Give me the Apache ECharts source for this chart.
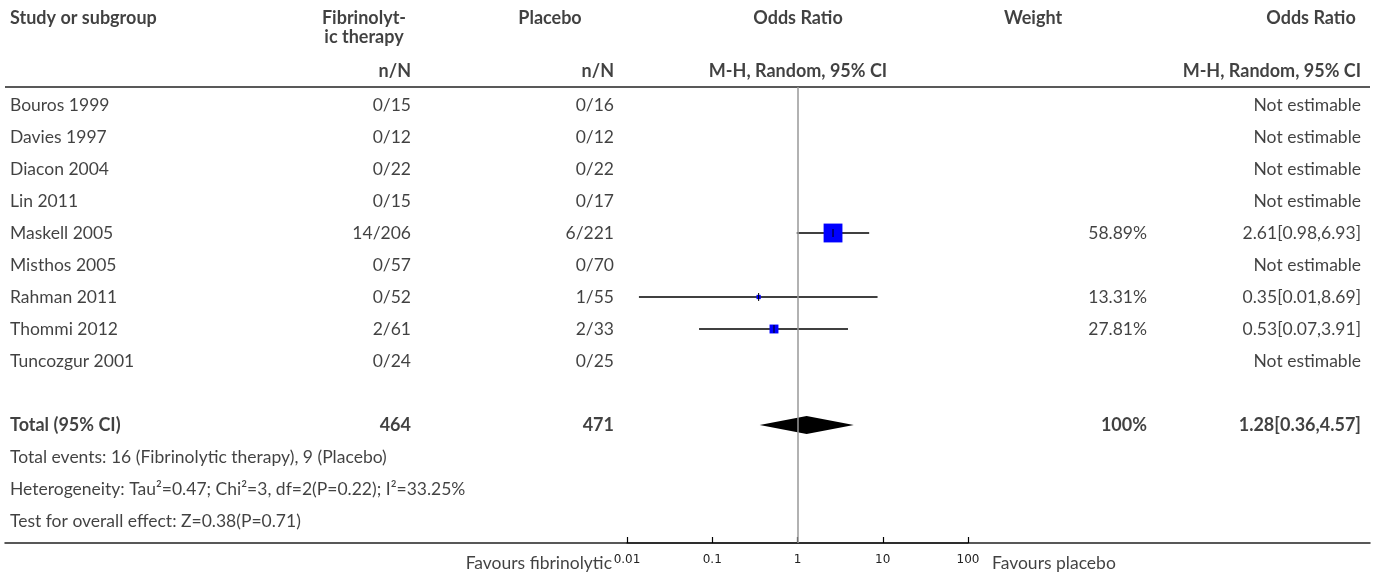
<!DOCTYPE html>
<html>
<head>
<meta charset="utf-8">
<script src="https://cdn.jsdelivr.net/npm/echarts@6/dist/echarts.min.js"></script>
<style>
  html, body { margin: 0; padding: 0; background: #fff; }
  #chart { width: 1375px; height: 573px; }
</style>
</head>
<body>
<div id="chart"></div>
<script>
// study rows
const studies = ['Bouros 1999', 'Davies 1997', 'Diacon 2004', 'Lin 2011', 'Maskell 2005',
  'Misthos 2005', 'Rahman 2011', 'Thommi 2012', 'Tuncozgur 2001'];
const fibEvents = [0, 0, 0, 0, 14, 0, 0, 2, 0];
const fibTotal = [15, 12, 22, 15, 206, 57, 52, 61, 24];
const plaEvents = [0, 0, 0, 0, 6, 0, 1, 2, 0];
const plaTotal = [16, 12, 22, 17, 221, 70, 55, 33, 25];
const weights = [null, null, null, null, 58.89, null, 13.31, 27.81, null];
const orPoint = [null, null, null, null, 2.61, null, 0.35, 0.53, null];
const orLow = [null, null, null, null, 0.98, null, 0.0138, 0.07, null];
const orHigh = [null, null, null, null, 6.93, null, 8.69, 3.91, null];

// pooled result
const totalFib = 464;
const totalPla = 471;
const totalWeight = 100;
const totalOR = [1.28, 0.36, 4.57];

const footLines = [
  'Total events: 16 (Fibrinolytic therapy), 9 (Placebo)',
  'Heterogeneity: Tau\u00b2=0.47; Chi\u00b2=3, df=2(P=0.22); I\u00b2=33.25%',
  'Test for overall effect: Z=0.38(P=0.71)'
];
const tickLabels = ['0.01', '0.1', '1', '10', '100'];

const FONT = 'Lato, "Noto Sans", sans-serif';
const TXT = '#111';

// column x positions (pixels along the full-width table axis)
const colStudy = 10, colFib = 411, colPla = 614, colWeight = 1147, colOR = 1361;

const fmtOR = (p, l, h) => `${p.toFixed(2)}[${l.toFixed(2)},${h.toFixed(2)}]`;

// table text, one scatter series per alignment
const leftText = [], rightText = [], centerText = [];
function put(arr, x, row, text, bold, extra) {
  arr.push({ value: [x, row], label: Object.assign({
    formatter: text, fontWeight: bold ? 'bold' : 'normal', fontSize: bold ? 18 : 17.5 }, extra || {}) });
}

// header rows
put(leftText, colStudy, -2.72, 'Study or subgroup', true);
put(centerText, 364, -2.43, 'Fibrinolyt-\nic therapy', true, { lineHeight: 19 });
put(centerText, 550, -2.72, 'Placebo', true);
put(centerText, 798, -2.72, 'Odds Ratio', true);
put(centerText, 1033, -2.72, 'Weight', true);
put(centerText, 1311, -2.72, 'Odds Ratio', true);
put(rightText, colFib, -1.06, 'n/N', true);
put(rightText, colPla, -1.06, 'n/N', true);
put(centerText, 798, -1.06, 'M-H, Random, 95% CI', true);
put(rightText, colOR, -1.06, 'M-H, Random, 95% CI', true);

studies.forEach((s, i) => {
  put(leftText, colStudy, i, s, false);
  put(rightText, colFib, i, `${fibEvents[i]}/${fibTotal[i]}`, false);
  put(rightText, colPla, i, `${plaEvents[i]}/${plaTotal[i]}`, false);
  if (weights[i] != null) {
    put(rightText, colWeight, i, weights[i].toFixed(2) + '%', false);
    put(rightText, colOR, i, fmtOR(orPoint[i], orLow[i], orHigh[i]), false);
  } else {
    put(rightText, colOR, i, 'Not estimable', false);
  }
});

const totalRow = studies.length + 1;
put(leftText, colStudy, totalRow, 'Total (95% CI)', true);
put(rightText, colFib, totalRow, String(totalFib), true);
put(rightText, colPla, totalRow, String(totalPla), true);
put(rightText, colWeight, totalRow, totalWeight + '%', true);
put(rightText, colOR, totalRow, fmtOR(totalOR[0], totalOR[1], totalOR[2]), true);
footLines.forEach((t, k) => put(leftText, colStudy, totalRow + 1 + k, t, false));

put(rightText, 612, 14.31, 'Favours fibrinolytic', false);
put(leftText, 992, 14.31, 'Favours placebo', false);

function textSeries(data, position) {
  return {
    type: 'scatter', xAxisIndex: 0, yAxisIndex: 0, symbolSize: 0, clip: false, silent: true,
    data: data,
    label: { show: true, position: position, distance: 0, color: TXT, fontFamily: FONT },
    emphasis: { disabled: true }
  };
}

const studyMarks = [];
studies.forEach((s, i) => {
  if (orPoint[i] != null) studyMarks.push([orPoint[i], i, orLow[i], orHigh[i], weights[i]]);
});

const chart = echarts.init(document.getElementById('chart'));
chart.setOption({
  animation: false,
  grid: [
    { left: 5, right: 5, top: 0, bottom: 30 },
    { left: 627, width: 341, top: 87, bottom: 30 }
  ],
  xAxis: [
    { type: 'value', gridIndex: 0, min: 5, max: 1370,
      axisLine: { onZero: false, lineStyle: { color: '#222', width: 1.5 } },
      axisTick: { show: false }, axisLabel: { show: false }, splitLine: { show: false } },
    { type: 'log', gridIndex: 1, logBase: 10, min: 0.01, max: 100,
      axisLine: { onZero: false, lineStyle: { color: '#222', width: 1.5 } },
      axisTick: { show: true, inside: true, length: 6, lineStyle: { color: '#000', width: 1.2 } },
      axisLabel: { color: '#222', fontSize: 12, fontFamily: 'DejaVu Sans', margin: 11,
        formatter: (v, idx) => tickLabels[idx] },
      splitLine: { show: false } }
  ],
  yAxis: [
    { type: 'value', gridIndex: 0, min: -3.28125, max: 13.6875, inverse: true, show: false },
    { type: 'value', gridIndex: 1, min: -0.5625, max: 13.6875, inverse: true, show: false }
  ],
  series: [
    textSeries(leftText, 'right'),
    textSeries(rightText, 'left'),
    textSeries(centerText, 'inside'),
    {
      type: 'line', xAxisIndex: 0, yAxisIndex: 0, data: [], silent: true,
      markLine: { silent: true, symbol: 'none', label: { show: false },
        lineStyle: { color: '#222', width: 1.5, type: 'solid' },
        data: [{ yAxis: -0.5625 }] }
    },
    {
      type: 'custom', xAxisIndex: 1, yAxisIndex: 1, silent: true,
      data: studyMarks,
      encode: { x: 0, y: 1 },
      renderItem: (params, api) => {
        const c = api.coord([api.value(0), api.value(1)]);
        const lo = api.coord([api.value(2), api.value(1)]);
        const hi = api.coord([api.value(3), api.value(1)]);
        const side = api.value(4) * 0.32;
        return {
          type: 'group',
          children: [
            { type: 'line', shape: { x1: lo[0], y1: lo[1], x2: hi[0], y2: hi[1] },
              style: { stroke: '#000', lineWidth: 1.5 } },
            { type: 'rect', shape: { x: c[0] - side / 2, y: c[1] - side / 2, width: side, height: side },
              style: { fill: '#0000ff' } },
            { type: 'line', shape: { x1: c[0], y1: c[1] - 4, x2: c[0], y2: c[1] + 4 },
              style: { stroke: '#000', lineWidth: 1 } }
          ]
        };
      },
      markLine: { silent: true, symbol: 'none', label: { show: false },
        lineStyle: { color: '#999', width: 1.5, type: 'solid' },
        data: [{ xAxis: 1 }] },
      z: 3
    },
    {
      type: 'custom', xAxisIndex: 1, yAxisIndex: 1, silent: true,
      data: [[totalOR[0], totalRow, totalOR[1], totalOR[2]]],
      encode: { x: 0, y: 1 },
      renderItem: (params, api) => {
        const c = api.coord([api.value(0), api.value(1)]);
        const lo = api.coord([api.value(2), api.value(1)]);
        const hi = api.coord([api.value(3), api.value(1)]);
        return {
          type: 'polygon',
          shape: { points: [[lo[0], c[1]], [c[0], c[1] - 9], [hi[0], c[1]], [c[0], c[1] + 9]] },
          style: { fill: '#000' }
        };
      },
      z: 3
    }
  ]
});
</script>
</body>
</html>
